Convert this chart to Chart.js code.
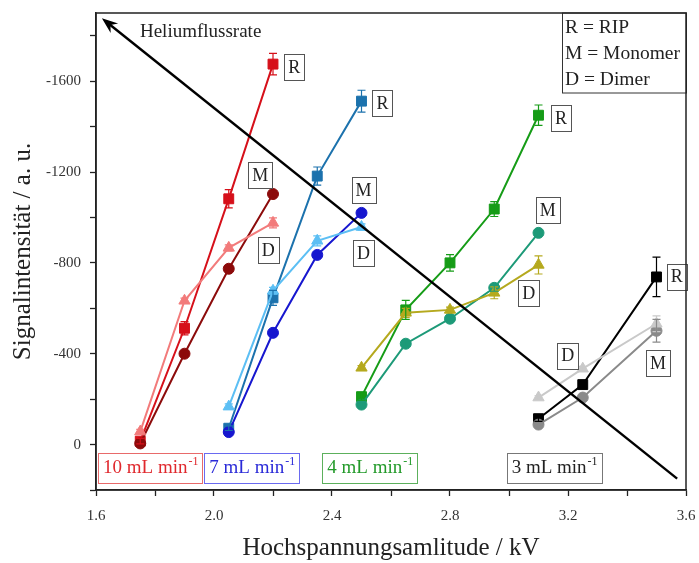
<!DOCTYPE html>
<html>
<head>
<meta charset="utf-8">
<script src="https://cdn.jsdelivr.net/npm/chart.js@4.4.1/dist/chart.umd.min.js"></script>
<style>
  html, body { margin: 0; padding: 0; background: #fff; }
  #wrap { width: 699px; height: 563px; }
</style>
</head>
<body>
<div id="wrap"><canvas id="grafico"></canvas></div>
<script>
// 10 mL/min
const spannung10 = [1.75, 1.9, 2.05, 2.2];
const rip10 = [-15, -512, -1082, -1675];
const rip10Fehler = [12, 29, 40, 47];
const mono10 = [-5, -400, -774, -1103];
const mono10Fehler = [8, 10, 12, 12];
const dimer10 = [-57, -633, -866, -976];
const dimer10Fehler = [10, 12, 13, 22];

// 7 mL/min
const spannung7 = [2.05, 2.2, 2.35, 2.5];
const rip7 = [-72, -646, -1182, -1512];
const rip7Fehler = [10, 33, 40, 48];
const mono7 = [-55, -492, -835, -1020];
const mono7Fehler = [8, 10, 10, 12];
const dimer7 = [-167, -677, -897, -958];
const dimer7Fehler = [12, 15, 22, 14];

// 4 mL/min
const spannung4 = [2.5, 2.65, 2.8, 2.95, 3.1];
const rip4 = [-211, -593, -800, -1037, -1450];
const rip4Fehler = [15, 42, 36, 33, 45];
const mono4 = [-176, -444, -554, -690, -932];
const mono4Fehler = [8, 12, 12, 15, 12];
const dimer4 = [-338, -580, -593, -668, -791];
const dimer4Fehler = [10, 20, 12, 26, 40];

// 3 mL/min
const spannung3 = [3.1, 3.25, 3.5];
const rip3 = [-114, -264, -738];
const rip3Fehler = [12, 15, 87];
const mono3 = [-88, -207, -501];
const mono3Fehler = [8, 10, 50];
const dimer3 = [-207, -334, -532];
const dimer3Fehler = [8, 10, 35];

const xTicks = [1.6, 2.0, 2.4, 2.8, 3.2, 3.6];
const yTicks = [0, -400, -800, -1200, -1600];

// Beschriftungen (Datenkoordinaten)
const kaesten = [
  {t: 'R', x: 2.272, y: -1662}, {t: 'M', x: 2.157, y: -1187}, {t: 'D', x: 2.184, y: -857},
  {t: 'R', x: 2.571, y: -1503}, {t: 'M', x: 2.507, y: -1121}, {t: 'D', x: 2.507, y: -844},
  {t: 'R', x: 3.176, y: -1437}, {t: 'M', x: 3.131, y: -1033}, {t: 'D', x: 3.067, y: -668},
  {t: 'R', x: 3.569, y: -739}, {t: 'D', x: 3.199, y: -391}, {t: 'M', x: 3.505, y: -360}
];
const flussKaesten = [
  {t: '10 mL min', x: 1.607, y: 101, farbe: '#e0282d', rand: '#e86a6a'},
  {t: '7 mL min', x: 1.967, y: 101, farbe: '#2a2ad8', rand: '#6a6af0'},
  {t: '4 mL min', x: 2.367, y: 101, farbe: '#239a2a', rand: '#5cb05c'},
  {t: '3 mL min', x: 2.992, y: 101, farbe: '#222', rand: '#777'}
];
const pfeil = {von: {x: 3.57, y: 150}, nach: {x: 1.62, y: -1877}};

const schrift = '"Liberation Serif", "DejaVu Serif", serif';

const serie = (xs, ys, fehler, farbe, punkt) => ({
  data: xs.map((x, i) => ({x: x, y: ys[i]})),
  fehler: fehler,
  borderColor: farbe,
  backgroundColor: farbe,
  pointStyle: punkt,
  pointRadius: punkt === 'rect' ? 7 : (punkt === 'triangle' ? 6.5 : 5.5),
  pointBorderWidth: 1,
  borderWidth: 2,
  showLine: true
});

const datasets = [
  serie(spannung10, dimer10, dimer10Fehler, '#f27b7b', 'triangle'),
  serie(spannung10, mono10, mono10Fehler, '#8c0b0b', 'circle'),
  serie(spannung10, rip10, rip10Fehler, '#d6101a', 'rect'),
  serie(spannung7, dimer7, dimer7Fehler, '#5cbff4', 'triangle'),
  serie(spannung7, mono7, mono7Fehler, '#1717cf', 'circle'),
  serie(spannung7, rip7, rip7Fehler, '#1c72ad', 'rect'),
  serie(spannung4, dimer4, dimer4Fehler, '#b5a91e', 'triangle'),
  serie(spannung4, mono4, mono4Fehler, '#1d9a78', 'circle'),
  serie(spannung4, rip4, rip4Fehler, '#169c17', 'rect'),
  serie(spannung3, dimer3, dimer3Fehler, '#c9c9c9', 'triangle'),
  serie(spannung3, mono3, mono3Fehler, '#8a8a8a', 'circle'),
  serie(spannung3, rip3, rip3Fehler, '#000000', 'rect')
];

const zeichnen = {
  id: 'zeichnen',
  afterDatasetsDraw(chart) {
    const {ctx, scales: {x, y}} = chart;
    ctx.save();
    chart.data.datasets.forEach(ds => {
      ds.data.forEach((p, i) => {
        const e = ds.fehler[i];
        if (!e) return;
        const px = x.getPixelForValue(p.x);
        const y1 = y.getPixelForValue(p.y - e);
        const y2 = y.getPixelForValue(p.y + e);
        ctx.strokeStyle = ds.borderColor;
        ctx.lineWidth = 1.2;
        ctx.beginPath();
        ctx.moveTo(px, y1); ctx.lineTo(px, y2);
        ctx.moveTo(px - 4, y1); ctx.lineTo(px + 4, y1);
        ctx.moveTo(px - 4, y2); ctx.lineTo(px + 4, y2);
        ctx.stroke();
      });
    });
    ctx.restore();
  },
  afterDraw(chart) {
    const {ctx, chartArea: ca, scales: {x, y}} = chart;
    ctx.save();

    // Pfeil
    const x0 = x.getPixelForValue(pfeil.von.x), y0 = y.getPixelForValue(pfeil.von.y);
    const x1 = x.getPixelForValue(pfeil.nach.x), y1 = y.getPixelForValue(pfeil.nach.y);
    const w = Math.atan2(y1 - y0, x1 - x0);
    ctx.strokeStyle = '#000';
    ctx.fillStyle = '#000';
    ctx.lineWidth = 2.4;
    ctx.beginPath();
    ctx.moveTo(x0, y0);
    ctx.lineTo(x1 - 10 * Math.cos(w), y1 - 10 * Math.sin(w));
    ctx.stroke();
    const l = 16, b = 6;
    ctx.beginPath();
    ctx.moveTo(x1, y1);
    ctx.lineTo(x1 - l * Math.cos(w) + b * Math.sin(w), y1 - l * Math.sin(w) - b * Math.cos(w));
    ctx.lineTo(x1 - 11 * Math.cos(w), y1 - 11 * Math.sin(w));
    ctx.lineTo(x1 - l * Math.cos(w) - b * Math.sin(w), y1 - l * Math.sin(w) + b * Math.cos(w));
    ctx.closePath();
    ctx.fill();

    // Heliumflussrate
    ctx.font = '19px ' + schrift;
    ctx.fillStyle = '#222';
    ctx.textAlign = 'left';
    ctx.textBaseline = 'middle';
    ctx.fillText('Heliumflussrate', x.getPixelForValue(1.749), y.getPixelForValue(-1815));

    // R / M / D Kästen
    ctx.font = '18px ' + schrift;
    ctx.textAlign = 'center';
    kaesten.forEach(k => {
      const cx = x.getPixelForValue(k.x), cy = y.getPixelForValue(k.y);
      const bw = ctx.measureText(k.t).width + 8, bh = 26;
      ctx.fillStyle = '#fff';
      ctx.fillRect(cx - bw / 2, cy - bh / 2, bw, bh);
      ctx.strokeStyle = '#555';
      ctx.lineWidth = 1;
      ctx.strokeRect(Math.round(cx - bw / 2) + 0.5, Math.round(cy - bh / 2) + 0.5, Math.round(bw), bh);
      ctx.fillStyle = '#222';
      ctx.fillText(k.t, cx, cy + 1);
    });

    // Flussraten-Kästen
    flussKaesten.forEach(k => {
      const lx = x.getPixelForValue(k.x), cy = y.getPixelForValue(k.y);
      ctx.font = '19px ' + schrift;
      const tw = ctx.measureText(k.t).width;
      ctx.font = '12px ' + schrift;
      const sw = ctx.measureText('-1').width;
      const bw = tw + sw + 10, bh = 30;
      ctx.strokeStyle = k.rand;
      ctx.lineWidth = 1;
      ctx.strokeRect(Math.round(lx) + 0.5, Math.round(cy - bh / 2) + 0.5, Math.round(bw), bh);
      ctx.fillStyle = k.farbe;
      ctx.textAlign = 'left';
      ctx.font = '19px ' + schrift;
      ctx.fillText(k.t, lx + 5, cy + 1);
      ctx.font = '12px ' + schrift;
      ctx.fillText('-1', lx + 5 + tw + 1, cy - 6);
    });

    // Legende
    const lb = 124, lh = 80;
    ctx.fillStyle = '#fff';
    ctx.fillRect(ca.right - lb, ca.top, lb, lh);
    ctx.strokeStyle = '#333';
    ctx.lineWidth = 1;
    ctx.strokeRect(Math.round(ca.right - lb) + 0.5, ca.top, lb, lh);
    ctx.fillStyle = '#222';
    ctx.font = '19.5px ' + schrift;
    ctx.textAlign = 'left';
    ['R = RIP', 'M = Monomer', 'D = Dimer'].forEach((s, i) => {
      ctx.fillText(s, ca.right - lb + 3, ca.top + 15 + i * 26);
    });

    // Rahmen
    ctx.strokeStyle = '#222';
    ctx.lineWidth = 1.5;
    ctx.strokeRect(ca.left, ca.top, ca.right - ca.left, ca.bottom - ca.top);
    ctx.restore();
  }
};

const grafico = new Chart(document.getElementById('grafico'), {
  type: 'scatter',
  data: {datasets: datasets},
  options: {
    responsive: true,
    maintainAspectRatio: false,
    animation: false,
    events: [],
    layout: {padding: {top: 13, right: 13, left: 0, bottom: 0}},
    plugins: {legend: {display: false}, tooltip: {enabled: false}},
    scales: {
      x: {
        type: 'linear',
        min: 1.6,
        max: 3.6,
        afterFit: s => { s.height = 73; s.paddingLeft = 0; s.paddingRight = 0; },
        afterBuildTicks: s => {
          s.ticks = s.ticks.filter(t => Math.abs(t.value * 5 - Math.round(t.value * 5)) < 1e-6);
        },
        ticks: {
          stepSize: 0.2,
          padding: 11,
          autoSkip: false,
          maxRotation: 0,
          color: '#333',
          font: {family: schrift, size: 15},
          callback: v => {
            const hit = xTicks.find(t => Math.abs(t - v) < 1e-6);
            return hit !== undefined ? hit.toFixed(1) : '';
          }
        },
        grid: {drawOnChartArea: false, tickLength: 6, tickColor: '#222', tickWidth: 1.3},
        border: {color: '#222', width: 1.5},
        title: {
          display: true,
          text: 'Hochspannungsamlitude / kV',
          color: '#222',
          font: {family: schrift, size: 25},
          padding: {top: 0, bottom: 0}
        }
      },
      y: {
        type: 'linear',
        min: -1900,
        max: 200,
        reverse: true,
        afterFit: s => { s.width = 96; s.paddingTop = 0; s.paddingBottom = 0; },
        afterBuildTicks: s => {
          s.ticks = s.ticks.filter(t => t.value % 200 === 0);
        },
        ticks: {
          stepSize: 200,
          padding: 9,
          autoSkip: false,
          color: '#333',
          font: {family: schrift, size: 15},
          callback: v => (yTicks.includes(v) ? String(v) : '')
        },
        grid: {drawOnChartArea: false, tickLength: 6, tickColor: '#222', tickWidth: 1.3},
        border: {color: '#222', width: 1.5},
        title: {
          display: true,
          text: 'Signalintensität / a. u.',
          color: '#222',
          font: {family: schrift, size: 25},
          padding: {top: 8, bottom: 0}
        }
      }
    }
  },
  plugins: [zeichnen]
});
</script>
</body>
</html>
